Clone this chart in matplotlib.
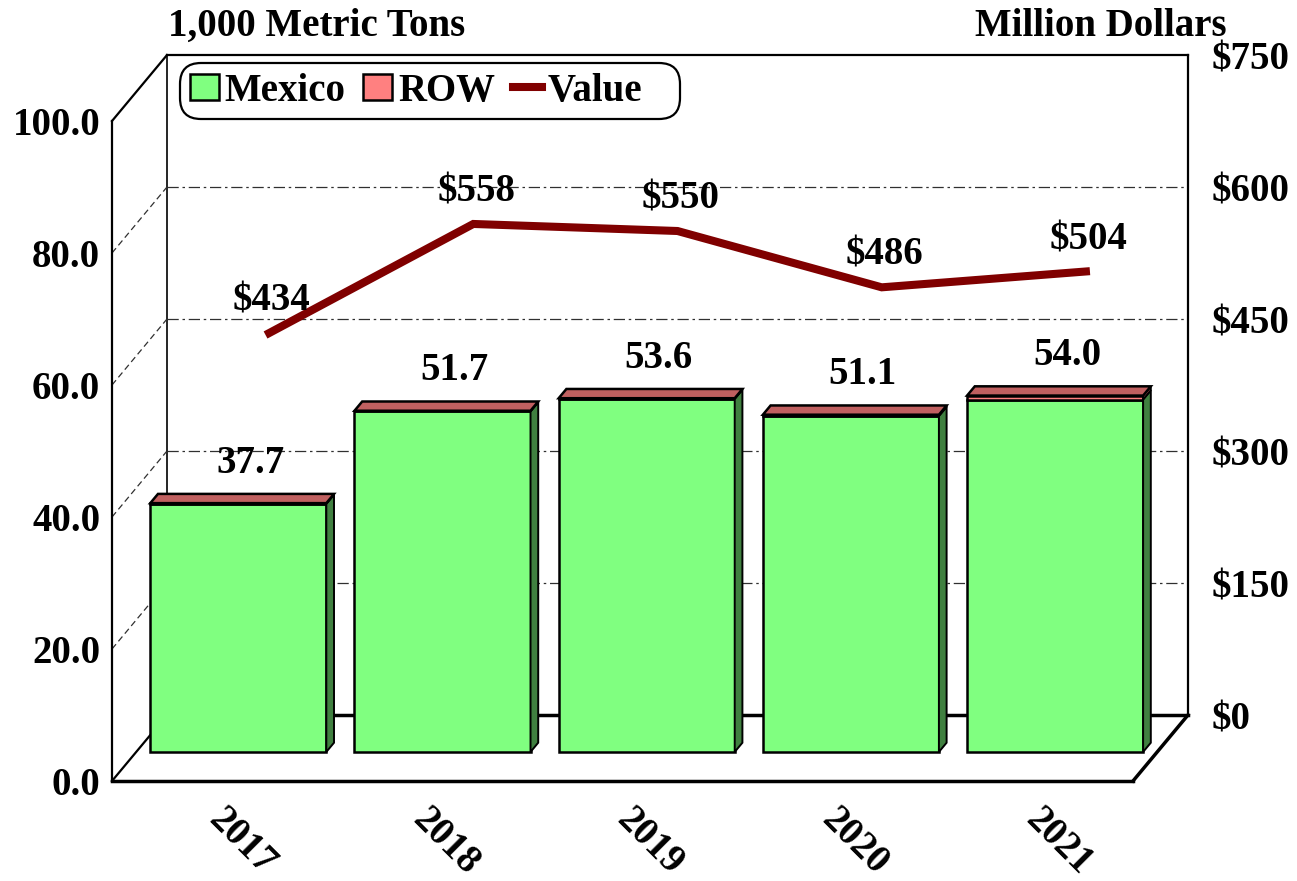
import matplotlib
matplotlib.use("Agg")
import matplotlib.pyplot as plt
from matplotlib.patches import Patch, Polygon
from matplotlib.lines import Line2D
from matplotlib.ticker import FuncFormatter
import numpy as np

plt.rcParams['font.family'] = ['Liberation Serif', 'DejaVu Serif']
plt.rcParams['font.weight'] = 'bold'

# data
years = ['2017', '2018', '2019', '2020', '2021']
mexico = [37.6, 51.6, 53.5, 50.9, 53.4]
row = [0.1, 0.1, 0.1, 0.2, 0.6]
totals = [37.7, 51.7, 53.6, 51.1, 54.0]
value = [434, 558, 550, 486, 504]

# colours
c_mex = '#80FF80'
c_mex_side = '#408040'
c_row = '#FF8080'
c_row_dark = '#C06060'
c_line = '#800000'

FS = 28

W, H, DPI = 1297, 881, 100
fig = plt.figure(figsize=(W / DPI, H / DPI), dpi=DPI)
ax = fig.add_axes([0, 0, 1, 1])

# front plane: x=-0.5 at px 112, 204.2 px per category; y=0 at px 781, 6.6 px per unit
x0_px, xs = 112, 204.2
y0_px, ys = 781, 6.6
ax.set_xlim((0 - x0_px) / xs - 0.5, (W - x0_px) / xs - 0.5)
ax.set_ylim((y0_px - H) / ys, y0_px / ys)

# depth vector of the 3d box (data units)
DX, DY = 55 / xs, 66 / ys
d_front, d_bar = 0.44, 0.14
bw = 0.862
n = len(years)
xl, xr = -0.5, n - 0.5

# back wall, left wall, floor
ax.plot([xl + DX, xr + DX], [100 + DY, 100 + DY], color='k', lw=1.6, zorder=1)
ax.plot([xl + DX, xl + DX], [DY, 100 + DY], color='k', lw=1.2, zorder=1)
ax.plot([xl, xl + DX], [100, 100 + DY], color='k', lw=1.6, zorder=1)
for g in [20, 40, 60, 80]:
    ax.plot([xl + DX, xr + DX], [g + DY, g + DY], color='#303030', lw=0.9,
            ls=(0, (9, 3, 2, 3)), zorder=1)
    ax.plot([xl, xl + DX], [g, g + DY], color='#303030', lw=0.9,
            ls=(0, (5, 3)), zorder=1)
ax.plot([xl + DX, xr + DX], [DY, DY], color='k', lw=2.5, zorder=1)
ax.plot([xl, xl + DX], [0, DY], color='k', lw=1.6, zorder=1)
ax.plot([xr, xr + DX], [0, DY], color='k', lw=2.5, zorder=1)

# bars with 3d faces
xpos = np.arange(n) + d_front * DX
base = d_front * DY
ax.bar(xpos, mexico, bottom=base, width=bw, color=c_mex, edgecolor='k', lw=1.8, zorder=3)
ax.bar(xpos, row, bottom=base + np.array(mexico), width=bw, color=c_row,
       edgecolor='k', lw=1.8, zorder=3)
ddx, ddy = d_bar * DX, d_bar * DY
for i in range(n):
    a, b = xpos[i] - bw / 2, xpos[i] + bw / 2
    m_top = base + mexico[i]
    t_top = m_top + row[i]
    ax.add_patch(Polygon([(b, base), (b + ddx, base + ddy), (b + ddx, m_top + ddy), (b, m_top)],
                         closed=True, fc=c_mex_side, ec='k', lw=1.4, zorder=3))
    ax.add_patch(Polygon([(b, m_top), (b + ddx, m_top + ddy), (b + ddx, t_top + ddy), (b, t_top)],
                         closed=True, fc=c_row_dark, ec='k', lw=1.4, zorder=3))
    ax.add_patch(Polygon([(a, t_top), (a + ddx, t_top + ddy), (b + ddx, t_top + ddy), (b, t_top)],
                         closed=True, fc=c_row_dark, ec='k', lw=1.8, zorder=3))
    ax.annotate(f'{totals[i]:.1f}', (xpos[i], t_top), xytext=(8.6, 28.8),
                textcoords='offset points', ha='center', va='center',
                fontsize=FS, fontweight='bold', zorder=5)

# left axis / floor front edge
for s in ['top', 'right']:
    ax.spines[s].set_visible(False)
ax.spines['left'].set_position(('data', xl))
ax.spines['left'].set_bounds(0, 100)
ax.spines['left'].set_linewidth(1.6)
ax.spines['bottom'].set_position(('data', 0))
ax.spines['bottom'].set_bounds(xl, xr)
ax.spines['bottom'].set_linewidth(2.5)
ax.set_yticks([0, 20, 40, 60, 80, 100])
ax.yaxis.set_major_formatter(FuncFormatter(lambda v, p: f'{v:.1f}'))
ax.tick_params(axis='y', length=0, pad=8.5, labelsize=FS)
ax.set_xticks(range(n))
ax.set_xticklabels(years, rotation=-45, ha='left', va='center', rotation_mode='anchor')
ax.tick_params(axis='x', length=0, pad=24, labelsize=FS)

# right axis on the back plane
ax2 = ax.twinx()
ylo, yhi = ax.get_ylim()
ax2.set_ylim((ylo - DY) * 7.5, (yhi - DY) * 7.5)
for s in ['top', 'left', 'bottom']:
    ax2.spines[s].set_visible(False)
ax2.spines['right'].set_position(('data', xr + DX))
ax2.spines['right'].set_bounds(0, 750)
ax2.spines['right'].set_linewidth(1.6)
ax2.set_yticks([0, 150, 300, 450, 600, 750])
ax2.yaxis.set_major_formatter(FuncFormatter(lambda v, p: f'${v:.0f}'))
ax2.tick_params(axis='y', length=0, pad=17, labelsize=FS)

xv = np.arange(n) + DX
ax2.plot(xv, value, color=c_line, lw=5.8, solid_joinstyle='miter', zorder=2)
for i in range(n):
    ax2.annotate(f'${value[i]}', (xv[i], value[i]), xytext=(2, 23),
                 textcoords='offset points', ha='center', va='center',
                 fontsize=FS, fontweight='bold')

# legend
handles = [Patch(fc=c_mex, ec='k', lw=1.8, label='Mexico'),
           Patch(fc=c_row, ec='k', lw=1.8, label='ROW'),
           Line2D([], [], color=c_line, lw=5.8, label='Value   ')]
leg = fig.legend(handles=handles, loc='upper left', bbox_to_anchor=(180 / W, 1 - 63 / H),
                 ncol=3, prop={'size': FS, 'weight': 'bold'}, handlelength=0.75,
                 handleheight=0.65, handletextpad=0.15, columnspacing=0.45,
                 borderpad=0.25, borderaxespad=0, frameon=True, fancybox=True)
frame = leg.get_frame()
frame.set_boxstyle('round,pad=0,rounding_size=0.55')
frame.set_edgecolor('k')
frame.set_linewidth(1.6)
frame.set_alpha(1)

# axis titles
fig.text(168 / W, 1 - 36 / H, '1,000 Metric Tons', fontsize=FS, fontweight='bold',
         ha='left', va='baseline')
fig.text(975 / W, 1 - 36 / H, 'Million Dollars', fontsize=FS, fontweight='bold',
         ha='left', va='baseline')

fig.savefig('out.png', dpi=DPI)
